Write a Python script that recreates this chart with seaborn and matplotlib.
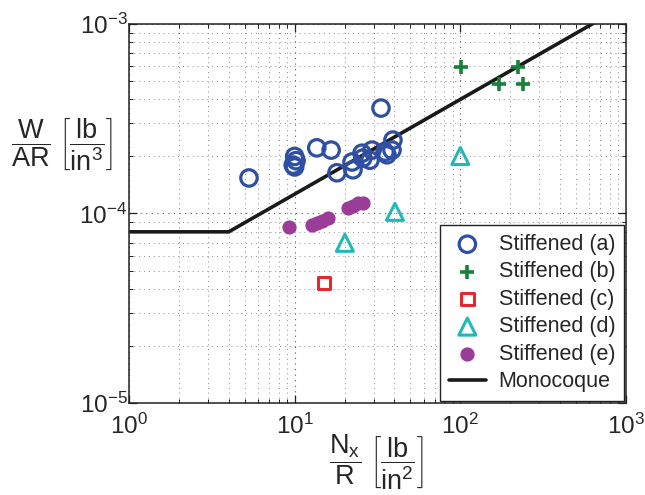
import matplotlib
matplotlib.use("Agg")
import matplotlib.pyplot as plt
import seaborn as sns
import numpy as np
import pandas as pd
from matplotlib.ticker import LogLocator, NullFormatter

# ---- data ----
a_x = [5.3, 10.0, 10.2, 9.8, 10.0, 13.6, 16.6, 33.2, 18.0, 22.2, 22.5, 25.5, 25.8,
       28.5, 29.3, 35.1, 36.1, 39.2, 38.7]
a_y = [1.54e-4, 2.0e-4, 1.9e-4, 1.8e-4, 1.76e-4, 2.22e-4, 2.16e-4, 3.6e-4, 1.64e-4,
       1.87e-4, 1.70e-4, 2.08e-4, 1.96e-4, 1.91e-4, 2.16e-4, 2.11e-4, 2.04e-4,
       2.44e-4, 2.16e-4]
b_x = [101, 223, 171, 239]
b_y = [5.93e-4, 5.93e-4, 4.82e-4, 4.82e-4]
c_x = [15.0]
c_y = [4.3e-5]
d_x = [100, 20.1, 40.3]
d_y = [2.01e-4, 7.0e-5, 1.02e-4]
e_x = [9.25, 12.7, 13.6, 14.6, 15.9, 21.0, 22.5, 24.1, 25.8]
e_y = [8.5e-5, 8.7e-5, 8.9e-5, 9.1e-5, 9.5e-5, 1.07e-4, 1.10e-4, 1.13e-4, 1.14e-4]
mono_x = [1, 4, 1000]
mono_y = [8e-5, 8e-5, 1.265e-3]
labels = ["Stiffened (a)", "Stiffened (b)", "Stiffened (c)", "Stiffened (d)",
          "Stiffened (e)", "Monocoque"]

sns.set_style("ticks")
plt.rcParams['font.family'] = ['Liberation Sans', 'DejaVu Sans']
plt.rcParams['mathtext.fontset'] = 'custom'
plt.rcParams['mathtext.rm'] = 'Liberation Sans'
plt.rcParams['mathtext.it'] = 'Liberation Sans:italic'
plt.rcParams['mathtext.bf'] = 'Liberation Sans:bold'

fig = plt.figure(figsize=(6.45, 4.95), dpi=100)
ax = fig.add_axes([0.2, 0.186, 0.7705, 0.7655])
ax.set_xscale('log')
ax.set_yscale('log')

blue = '#2f4fa2'
green = '#17813c'
red = '#e8262d'
cyan = '#22b8b8'
purple = '#9a3c98'

sns.scatterplot(x=a_x, y=a_y, ax=ax, marker='o', s=140, color=blue, linewidth=2.3,
                label=labels[0], zorder=3)
coll = ax.collections[-1]
coll.set_facecolor('none'); coll.set_edgecolor(blue)
sns.scatterplot(x=b_x, y=b_y, ax=ax, marker='+', s=110, color=green, linewidth=2.6,
                label=labels[1], zorder=3)
sns.scatterplot(x=c_x, y=c_y, ax=ax, marker='s', s=80, color=red, linewidth=2.2,
                label=labels[2], zorder=3)
coll = ax.collections[-1]
coll.set_facecolor('none'); coll.set_edgecolor(red)
sns.scatterplot(x=d_x, y=d_y, ax=ax, marker='^', s=150, color=cyan, linewidth=2.2,
                label=labels[3], zorder=3)
coll = ax.collections[-1]
coll.set_facecolor('none'); coll.set_edgecolor(cyan)
sns.scatterplot(x=e_x, y=e_y, ax=ax, marker='o', s=85, color=purple, edgecolor=purple,
                linewidth=1, label=labels[4], zorder=3)
sns.lineplot(x=mono_x, y=mono_y, ax=ax, color='#1a1a1a', linewidth=2.6,
             label=labels[5], estimator=None, sort=False, zorder=2)

ax.set_xlim(1, 1000)
ax.set_ylim(1e-5, 1e-3)
ax.xaxis.set_major_locator(LogLocator(base=10, numticks=10))
ax.yaxis.set_major_locator(LogLocator(base=10, numticks=10))
ax.xaxis.set_minor_locator(LogLocator(base=10, subs=np.arange(2, 10), numticks=20))
ax.yaxis.set_minor_locator(LogLocator(base=10, subs=np.arange(2, 10), numticks=20))
ax.xaxis.set_minor_formatter(NullFormatter())
ax.yaxis.set_minor_formatter(NullFormatter())

ax.grid(True, which='major', linestyle=(0, (1, 4)), color='#555555', linewidth=0.8)
ax.grid(True, which='minor', linestyle=(0, (1, 4)), color='#888888', linewidth=0.7)
ax.tick_params(which='both', direction='in', top=True, right=True, labelsize=17.5,
               color='#222222')
ax.tick_params(which='major', length=6, width=0.9)
ax.tick_params(which='minor', length=3, width=0.7)
ax.tick_params(axis='x', pad=8)
ax.tick_params(axis='y', pad=1)
for s in ax.spines.values():
    s.set_linewidth(1.1)
    s.set_color('#222222')

ax.set_xlabel(r'$\dfrac{\mathrm{N_x}}{\mathrm{R}}\ \left[\dfrac{\mathrm{lb}}{\mathrm{in^2}}\right]$',
              fontsize=19.5, va='center')
ax.xaxis.set_label_coords(0.497, -0.155)
ax.set_ylabel(r'$\dfrac{\mathrm{W}}{\mathrm{AR}}\ \left[\dfrac{\mathrm{lb}}{\mathrm{in^3}}\right]$',
              fontsize=19.5, rotation=0, ha='center', va='center')
ax.yaxis.set_label_coords(-0.135, 0.681)

leg = ax.legend(loc='lower right', fontsize=15.5, frameon=True, fancybox=False,
                edgecolor='#222222', framealpha=1, borderaxespad=0.1,
                labelspacing=0.3, handlelength=1.7, handletextpad=0.6,
                borderpad=0.4)
leg.get_frame().set_linewidth(1.0)

fig.savefig('out.png', dpi=100)
